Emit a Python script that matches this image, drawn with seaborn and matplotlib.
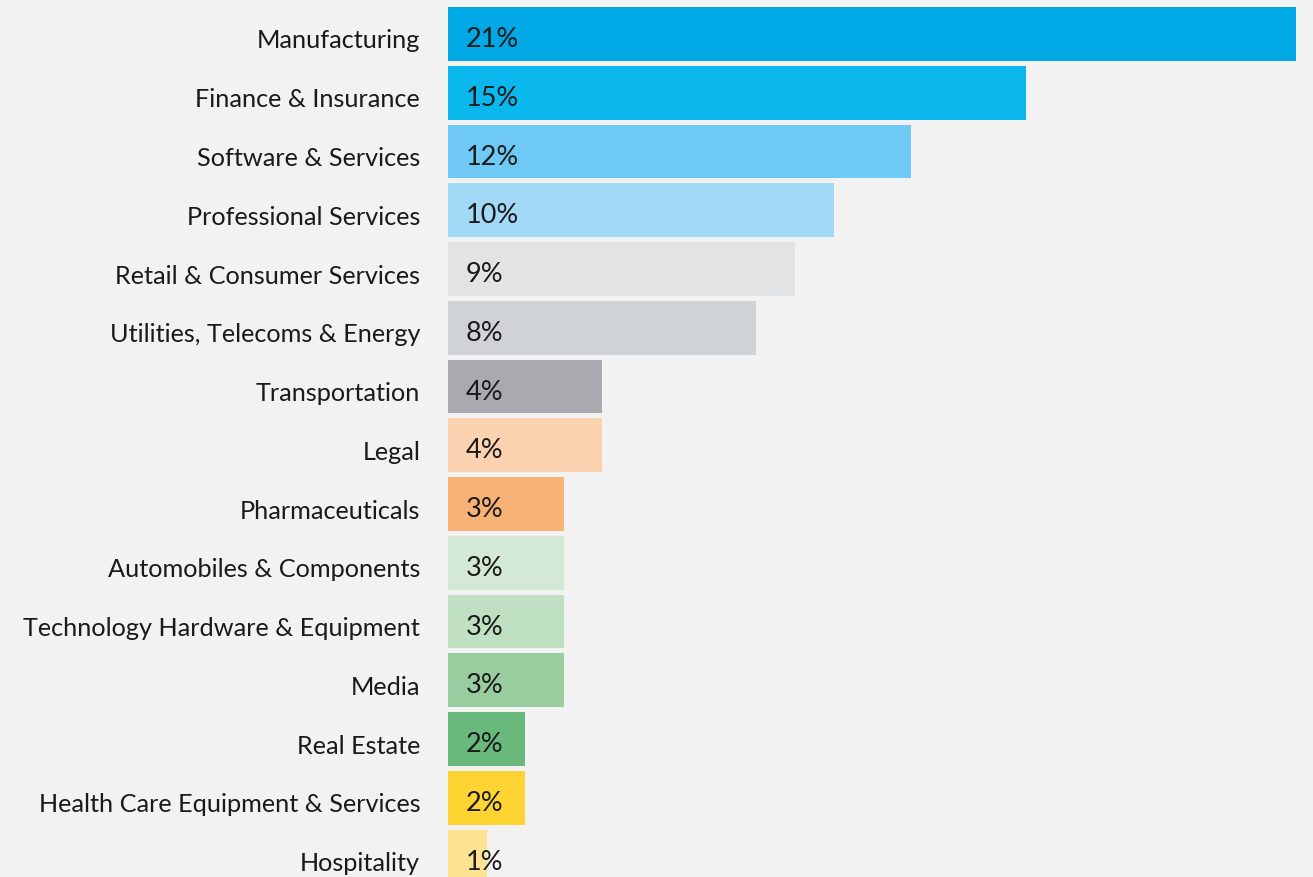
import matplotlib
matplotlib.use("Agg")
import matplotlib.pyplot as plt
import seaborn as sns
import pandas as pd
import matplotlib.transforms as mtransforms

categories = [
    "Manufacturing", "Finance & Insurance", "Software & Services",
    "Professional Services", "Retail & Consumer Services",
    "Utilities, Telecoms & Energy", "Transportation", "Legal",
    "Pharmaceuticals", "Automobiles & Components",
    "Technology Hardware & Equipment", "Media", "Real Estate",
    "Health Care Equipment & Services", "Hospitality",
]
values = [22, 15, 12, 10, 9, 8, 4, 4, 3, 3, 3, 3, 2, 2, 1]
value_labels = ["21%", "15%", "12%", "10%", "9%", "8%", "4%", "4%", "3%",
                "3%", "3%", "3%", "2%", "2%", "1%"]
colors = ["#00a9e6", "#0bb8ee", "#6ecaf5", "#a2d9f7", "#e2e3e5", "#d0d3d6",
          "#a9aaaf", "#fbd3b1", "#f8b275", "#d3e9d5", "#bfe0c3", "#99cc9f",
          "#68b97b", "#fed433", "#fde391"]

df = pd.DataFrame({"category": categories, "value": values})

sns.set_theme(style="white")
plt.rcParams["font.family"] = ["Lato", "DejaVu Sans"]

BG = "#f2f2f2"
W, H = 1313, 877
fig = plt.figure(figsize=(W / 100, H / 100), dpi=100, facecolor=BG)
ax_left = 448 / W
ax_top_px = 4.6
ax_bottom_px = 886.0
ax = fig.add_axes([ax_left, (H - ax_bottom_px) / H, 1 - ax_left,
                   (ax_bottom_px - ax_top_px) / H])
ax.set_facecolor(BG)

sns.barplot(data=df, x="value", y="category", hue="category",
            palette=colors, legend=False, width=0.915, ax=ax,
            saturation=1, linewidth=0, orient="h")

ax.set_xlim(0, (W - 448) / 38.55)
ax.set_ylim(len(categories) - 0.5, -0.5)
ax.set_xlabel("")
ax.set_ylabel("")
ax.set_xticks([])
for s in ax.spines.values():
    s.set_visible(False)

ax.tick_params(axis="y", length=0, pad=20, labelsize=18.2, labelcolor="#1a1a1a")
offset = mtransforms.ScaledTranslation(0, -5 / 100, fig.dpi_scale_trans)
for lab in ax.get_yticklabels():
    lab.set_transform(lab.get_transform() + offset)

for i, (v, lbl) in enumerate(zip(values, value_labels)):
    ax.annotate(lbl, xy=(0, i), xytext=(13, -4), textcoords="offset points",
                ha="left", va="center", fontsize=19.5, color="#1a1a1a")

fig.savefig("out.png", dpi=100, facecolor=BG)
